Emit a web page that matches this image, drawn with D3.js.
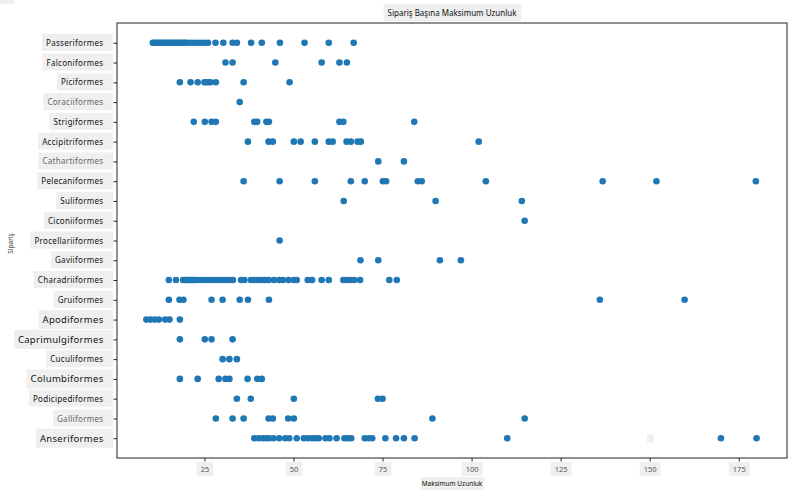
<!DOCTYPE html>
<html>
<head>
<meta charset="utf-8">
<script src="https://cdn.jsdelivr.net/npm/d3@7"></script>
<style>
  body { margin: 0; background: #fff; }
  svg { font-family: "Noto Sans", "DejaVu Sans", sans-serif; }
</style>
</head>
<body>
<svg id="chart" width="793" height="496"></svg>
<script>
// orders from top to bottom
const orders = [
    "Passeriformes", "Falconiformes", "Piciformes", "Coraciiformes", "Strigiformes",
    "Accipitriformes", "Cathartiformes", "Pelecaniformes", "Suliformes", "Ciconiiformes",
    "Procellariiformes", "Gaviiformes", "Charadriiformes", "Gruiformes", "Apodiformes",
    "Caprimulgiformes", "Cuculiformes", "Columbiformes", "Podicipediformes", "Galliformes",
    "Anseriformes"
];

// max length values per order
const passeriformes = [10.5, 11, 11.5, 12, 12.5, 13, 13.5, 14, 14.5, 15, 15.5, 16, 16.5, 17, 17.5,
    18, 18.5, 19, 19.5, 20, 21, 22, 23, 24, 25, 26, 28.1, 30.3, 32.9, 34.1, 38.1, 41.1, 46.2, 53.1, 59.9, 66.9];
const falconiformes = [30.9, 32.9, 44.9, 57.9, 62.9, 65];
const piciformes = [18.1, 21.1, 23.1, 25, 25.5, 26.1, 26.7, 28.2, 36, 48.9];
const coraciiformes = [34.9];
const strigiformes = [22, 25.1, 27, 28.2, 39, 39.8, 42.4, 43.1, 62.9, 64, 83.9];
const accipitriformes = [37.2, 43, 44.2, 50.1, 52, 56, 59.9, 61, 64.9, 66.1, 68, 68.9, 102];
const cathartiformes = [73.8, 81];
const pelecaniformes = [36, 46.1, 56, 66.1, 70, 75.1, 76, 84.9, 86, 104, 136.8, 151.9, 179.8];
const suliformes = [64.1, 89.9, 114.1];
const ciconiiformes = [114.9];
const procellariiformes = [46.1];
const gaviiformes = [68.8, 73.8, 91.1, 97];
const charadriiformes = [15, 17, 19, 19.5, 20, 20.5, 21, 21.5, 22, 22.5, 23, 24, 25, 26, 27, 28, 29,
    30, 31, 32, 33, 35.3, 36.2, 38, 39, 40, 41, 42, 43, 44.5, 46, 47, 48.6, 50.1, 50.9, 54, 55.2,
    57.9, 59.9, 64, 65, 66, 67, 68.7, 76.9, 79];
const gruiformes = [15, 18, 19.1, 27, 30.1, 34.9, 37.2, 43.1, 136, 159.8];
const apodiformes = [8.7, 9.8, 11, 12.2, 14, 15.2, 18.1];
const caprimulgiformes = [18.1, 25.1, 27, 32.9];
const cuculiformes = [30.1, 32, 34.1];
const columbiformes = [18.1, 23.1, 29, 30.9, 32, 37.1, 39.8, 41.1];
const podicipediformes = [34.1, 38, 50.1, 73.7, 75];
const galliformes = [28.2, 32.9, 36, 43, 44.2, 48.5, 50.1, 89, 114.9];
const anseriformes = [39, 40.2, 41.4, 42.3, 43.2, 44.4, 46, 47.7, 48.8, 50.9, 52.9, 54, 55.2, 56.2,
    57.1, 59, 60.1, 62.1, 64.3, 65.2, 66.2, 70, 71.1, 72.1, 75.8, 78.8, 81, 84, 110, 170, 180];

const xTicks = [25, 50, 75, 100, 125, 150, 175];

const seriesByOrder = {
    Passeriformes: passeriformes, Falconiformes: falconiformes, Piciformes: piciformes,
    Coraciiformes: coraciiformes, Strigiformes: strigiformes, Accipitriformes: accipitriformes,
    Cathartiformes: cathartiformes, Pelecaniformes: pelecaniformes, Suliformes: suliformes,
    Ciconiiformes: ciconiiformes, Procellariiformes: procellariiformes, Gaviiformes: gaviiformes,
    Charadriiformes: charadriiformes, Gruiformes: gruiformes, Apodiformes: apodiformes,
    Caprimulgiformes: caprimulgiformes, Cuculiformes: cuculiformes, Columbiformes: columbiformes,
    Podicipediformes: podicipediformes, Galliformes: galliformes, Anseriformes: anseriformes
};

const points = [];
orders.forEach((o) => seriesByOrder[o].forEach((v) => points.push({ order: o, value: v })));

// label look varies in the reference (bigger / lighter ones)
const bigLabels = ["Apodiformes", "Caprimulgiformes", "Columbiformes", "Anseriformes"];
const lightLabels = ["Coraciiformes", "Cathartiformes", "Galliformes"];

const margin = { left: 117, right: 6, top: 23, bottom: 38 };
const width = 793, height = 496;
const svg = d3.select("#chart");

const x = d3.scaleLinear()
    .domain([0.45, 188.55])
    .range([margin.left, width - margin.right]);
const y = d3.scalePoint()
    .domain(orders)
    .range([margin.top, height - margin.bottom])
    .padding(1);

// grey box behind a text node; rightEdge pins the box's right side when given
function boxBehind(sel, padX, padY, rightEdge) {
    sel.each(function () {
        const b = this.getBBox();
        const x0 = b.x - padX;
        const x1 = rightEdge === undefined ? b.x + b.width + padX : rightEdge;
        d3.select(this.parentNode).insert("rect", () => this)
            .attr("x", x0).attr("y", b.y - padY)
            .attr("width", x1 - x0).attr("height", b.height + padY * 2)
            .attr("fill", "#efefef");
    });
}

// x axis
const xAxis = svg.append("g")
    .attr("transform", `translate(0,${height - margin.bottom})`)
    .call(d3.axisBottom(x).tickValues(xTicks).tickSize(3.5).tickPadding(5));
xAxis.select(".domain").remove();
xAxis.selectAll("line").attr("stroke", "#222");
xAxis.selectAll("text")
    .attr("font-size", 7.5)
    .attr("fill", "#555")
    .attr("font-family", "Noto Sans, sans-serif")
    .call(boxBehind, 4, 2);

// y axis
const yAxis = svg.append("g")
    .attr("transform", `translate(${margin.left},0)`)
    .call(d3.axisLeft(y).tickSize(3.5).tickPadding(10));
yAxis.select(".domain").remove();
yAxis.selectAll("line").attr("stroke", "#222");
yAxis.selectAll("text")
    .attr("font-family", "Noto Sans, sans-serif")
    .attr("font-size", (d) => (bigLabels.includes(d) ? 9.5 : 8))
    .attr("fill", (d) => (lightLabels.includes(d) ? "#666" : "#111"))
    .attr("letter-spacing", 0.3)
    .call(boxBehind, 4, 3, -4);

// frame
svg.append("rect")
    .attr("x", margin.left).attr("y", margin.top)
    .attr("width", width - margin.left - margin.right)
    .attr("height", height - margin.top - margin.bottom)
    .attr("fill", "none").attr("stroke", "#222").attr("stroke-width", 1);

// dots
svg.append("g")
    .selectAll("circle")
    .data(points)
    .enter()
    .append("circle")
    .attr("cx", (d) => x(d.value))
    .attr("cy", (d) => y(d.order))
    .attr("r", 3.3)
    .attr("fill", "#1f77b4");

// small leftover box near 150
svg.append("rect")
    .attr("x", x(150) - 3).attr("y", y("Anseriformes") - 4)
    .attr("width", 7).attr("height", 8)
    .attr("fill", "#f0f0f0");

// title
svg.append("text")
    .attr("x", 452).attr("y", 16)
    .attr("text-anchor", "middle")
    .attr("font-size", 8)
    .attr("fill", "#111")
    .text("Sipariş Başına Maksimum Uzunluk")
    .call(boxBehind, 4, 3);

// x label
svg.append("text")
    .attr("x", 452).attr("y", 486)
    .attr("text-anchor", "middle")
    .attr("font-size", 6.5)
    .attr("fill", "#111")
    .text("Maksimum Uzunluk")
    .call(boxBehind, 1, 2);

// y label
svg.append("text")
    .attr("transform", `translate(13,${y("Procellariiformes") + 3}) rotate(-90)`)
    .attr("text-anchor", "middle")
    .attr("font-size", 6.5)
    .attr("fill", "#333")
    .text("Sipariş")
    .call(boxBehind, 4, 2);
</script>
</body>
</html>
